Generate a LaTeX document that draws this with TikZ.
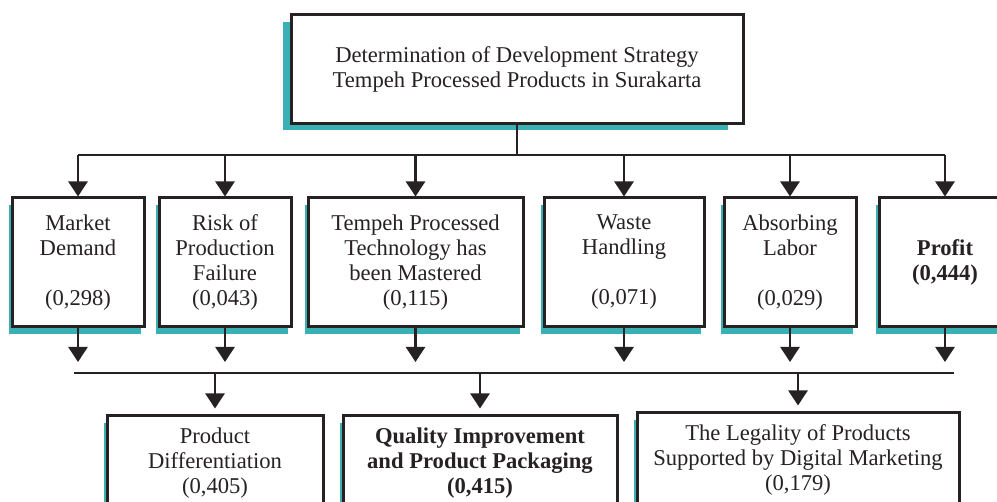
\documentclass[tikz,border=0pt]{standalone}
\usepackage{fontspec}
\setmainfont{Liberation Serif}
\usetikzlibrary{arrows.meta,shadows}
\definecolor{tealshadow}{RGB}{58,176,181}
\definecolor{ink}{RGB}{38,34,35}
\newcommand{\boxfont}{\fontsize{22.6}{25}\selectfont}
\begin{document}
\begin{tikzpicture}[x=1pt,y=-1pt, line join=miter, >={Triangle[width=19pt,length=15pt]},
	font=\boxfont, text=ink,
	plain/.style={draw=ink, line width=3pt, fill=white, align=center, inner sep=0pt},
	box/.style={plain, general shadow={fill=tealshadow, shadow xshift=-3pt, shadow yshift=-7pt}},
	heavy/.style={font=\boxfont\bfseries},
	conn/.style={draw=ink, line width=2.5pt}]
	\def\ymid{262.5} \def\hmid{129} % criteria row
	\useasboundingbox (0,0) rectangle (997,502);
	\clip (0,0) rectangle (997,502);
	% goal
	\fill[tealshadow] (283,22) rectangle (728,130.5);
	\node[plain, minimum width=452, minimum height=109] (goal) at (517,69.5)
		{Determination of Development Strategy\\Tempeh Processed Products in Surakarta};
	% criteria
	\node[box, minimum width=132, minimum height=\hmid] (c1) at (78,\ymid) {Market\\Demand\\[25pt](0,298)};
	\node[box, minimum width=132, minimum height=\hmid] (c2) at (225,\ymid) {Risk of\\Production\\Failure\\(0,043)};
	\node[box, minimum width=215, minimum height=\hmid] (c3) at (415.5,\ymid) {Tempeh Processed\\Technology has\\been Mastered\\(0,115)};
	\node[box, minimum width=160, minimum height=\hmid] (c4) at (624,\ymid) {Waste\\Handling\\[25pt](0,071)};
	\node[box, minimum width=132, minimum height=\hmid] (c5) at (790,\ymid) {Absorbing\\Labor\\[25pt](0,029)};
	\node[box, heavy, minimum width=132, minimum height=\hmid] (c6) at (945,\ymid) {Profit\\(0,444)};
	% alternatives
	\node[box, minimum width=216, minimum height=94] (a1) at (215,463) {Product\\Differentiation\\(0,405)};
	\node[box, heavy, minimum width=274, minimum height=94] (a2) at (480,463) {Quality Improvement\\and Product Packaging\\(0,415)};
	\node[box, minimum width=322, minimum height=94] (a3) at (798,460) {The Legality of Products\\Supported by Digital Marketing\\(0,179)};
	% connectors
	\coordinate (busT) at (517,155);
	\coordinate (tipB) at (0,362);
	\coordinate (busB) at (0,373);
	\draw[conn] (goal) -- (busT);
	\draw[conn] (c1 |- busT) -- (c6 |- busT);
	\draw[conn] (74,373) -- (954,373);
	\foreach \c in {c1,c2,c3,c4,c5,c6}{
		\draw[conn,->] (\c |- busT) -- (\c);
		\draw[conn,->] (\c) -- (\c |- tipB);
	}
	\foreach \a in {a1,a2,a3}
		\draw[conn,->] (\a |- busB) -- ([yshift=6pt]\a.north);
\end{tikzpicture}
\end{document}
